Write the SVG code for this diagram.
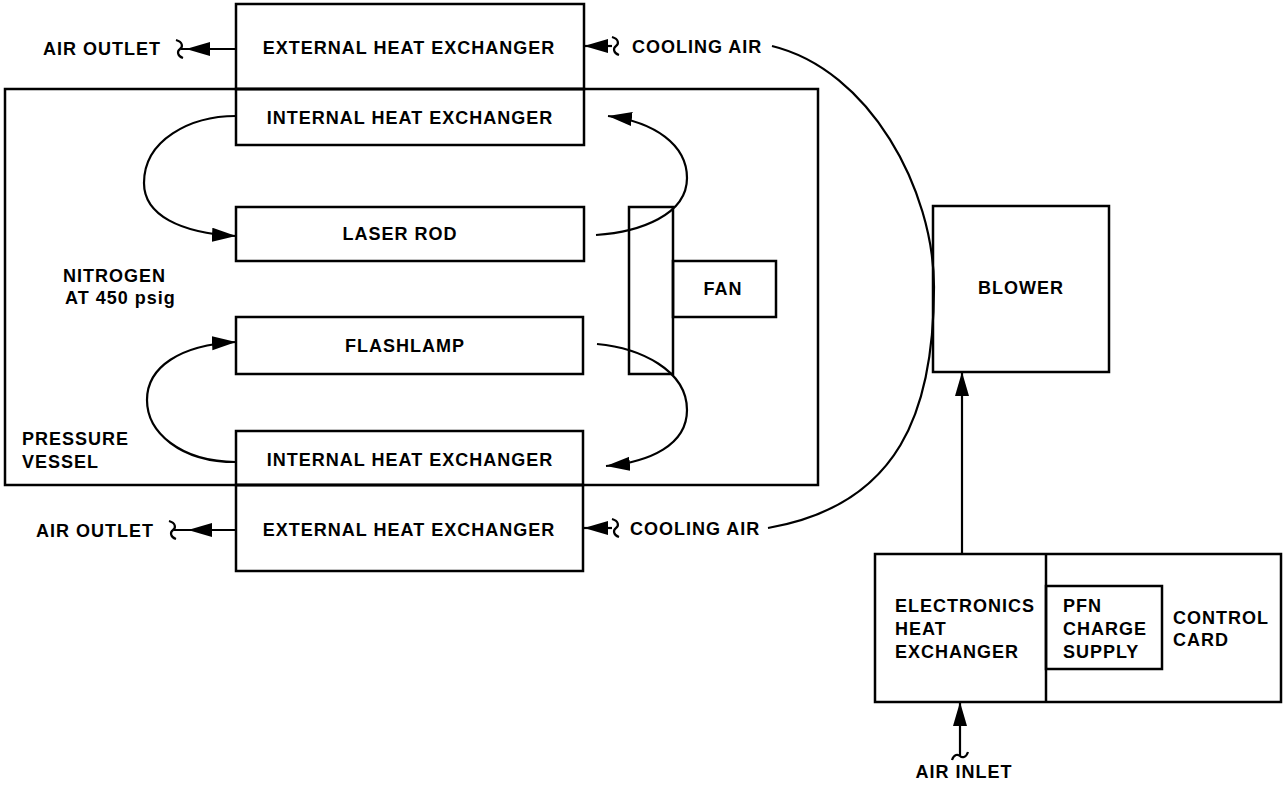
<svg xmlns="http://www.w3.org/2000/svg" width="1283" height="792" viewBox="0 0 1283 792">
<style>
.b{fill:none;stroke:#000;stroke-width:2.5}
.c{fill:none;stroke:#000;stroke-width:2.2}
.t{font-family:"Liberation Sans",Arial,sans-serif;font-weight:bold;font-size:18px;letter-spacing:1px;fill:#000}
.m{text-anchor:middle}
</style>
<defs>
<marker id="ah" markerUnits="userSpaceOnUse" markerWidth="26" markerHeight="16" refX="24" refY="7" orient="auto" viewBox="0 0 26 16">
<path d="M0,0 L24,7 L0,14 z" fill="#000"/>
</marker>
</defs>
<rect width="1283" height="792" fill="#fff"/>
<g id="pressure-vessel">
<rect class="b" x="5" y="89" width="813" height="396"/>
<text class="t" x="63" y="282">NITROGEN</text>
<text class="t" x="65" y="304">AT 450 psig</text>
<text class="t" x="22" y="445">PRESSURE</text>
<text class="t" x="22" y="468">VESSEL</text>
</g>
<g id="ext-hx-top">
<rect class="b" x="236" y="4" width="348" height="85"/>
<text class="t m" x="409" y="54">EXTERNAL HEAT EXCHANGER</text>
</g>
<g id="int-hx-top">
<rect class="b" x="236" y="89" width="348" height="56"/>
<text class="t m" x="410" y="124">INTERNAL HEAT EXCHANGER</text>
</g>
<g id="laser-rod">
<rect class="b" x="236" y="207" width="348" height="54"/>
<text class="t m" x="400" y="240">LASER ROD</text>
</g>
<g id="flashlamp">
<rect class="b" x="236" y="317" width="347" height="57"/>
<text class="t m" x="405" y="352">FLASHLAMP</text>
</g>
<g id="int-hx-bottom">
<rect class="b" x="236" y="431" width="347" height="54"/>
<text class="t m" x="410" y="466">INTERNAL HEAT EXCHANGER</text>
</g>
<g id="ext-hx-bottom">
<rect class="b" x="236" y="485" width="347" height="86"/>
<text class="t m" x="409" y="536">EXTERNAL HEAT EXCHANGER</text>
</g>
<g id="fan">
<rect class="b" x="629" y="207" width="44" height="167"/>
<rect class="b" x="673" y="261" width="103" height="56"/>
<text class="t m" x="723" y="295">FAN</text>
</g>
<g id="blower">
<rect class="b" x="933" y="206" width="176" height="166"/>
<text class="t m" x="1021" y="294">BLOWER</text>
</g>
<g id="electronics">
<rect class="b" x="875" y="554" width="406" height="148"/>
<line class="b" x1="1046" y1="554" x2="1046" y2="702"/>
<rect class="b" x="1046" y="586" width="116" height="83"/>
<text class="t" x="895" y="612">ELECTRONICS</text>
<text class="t" x="895" y="635">HEAT</text>
<text class="t" x="895" y="658">EXCHANGER</text>
<text class="t" x="1063" y="612">PFN</text>
<text class="t" x="1063" y="635">CHARGE</text>
<text class="t" x="1063" y="658">SUPPLY</text>
<text class="t" x="1173" y="624">CONTROL</text>
<text class="t" x="1173" y="646">CARD</text>
</g>
<g id="labels">
<text class="t" x="43" y="55">AIR OUTLET</text>
<text class="t" x="36" y="537">AIR OUTLET</text>
<text class="t" x="632" y="53">COOLING AIR</text>
<text class="t" x="630" y="535">COOLING AIR</text>
<text class="t m" x="964" y="778">AIR INLET</text>
</g>
<g id="connectors">
<path class="c" d="M236,116 C190,116 144,140 144,183 C144,215 180,233 236,236" marker-end="url(#ah)"/>
<path class="c" d="M236,462 C180,462 147,432 147,400 C147,367 180,345 236,342" marker-end="url(#ah)"/>
<path class="c" d="M596,235 C640,232 687,215 687,178 C687,145 655,122 608,116" marker-end="url(#ah)"/>
<path class="c" d="M597,344 C640,348 687,370 687,410 C687,445 650,462 606,466" marker-end="url(#ah)"/>
<path class="c" d="M772,46 C870,70 934,190 934,287 C934,410 900,505 768,528"/>
<path class="c" d="M236,49 L186,49" marker-end="url(#ah)"/>
<path class="c" d="M187,49 L181,49 M176,40 C183,42 183,47 180,49 C177,51 177,56 183,58"/>
<path class="c" d="M236,530 L188,530" marker-end="url(#ah)"/>
<path class="c" d="M189,530 L174,530 M169,521 C176,523 176,528 173,530 C170,532 170,537 176,539"/>
<path class="c" d="M612,46 L584,46" marker-end="url(#ah)"/>
<path class="c" d="M612,37 C619,39 619,44 616,46 C613,48 613,53 619,55"/>
<path class="c" d="M612,528 L584,528" marker-end="url(#ah)"/>
<path class="c" d="M612,519 C619,521 619,526 616,528 C613,530 613,535 619,537"/>
<path class="c" d="M962,554 L962,372" marker-end="url(#ah)"/>
<path class="c" d="M960,756 L960,702" marker-end="url(#ah)"/>
<path class="c" d="M952,760 C954,754 958,754 960,756 C962,758 966,758 968,752"/>
</g>
</svg>
